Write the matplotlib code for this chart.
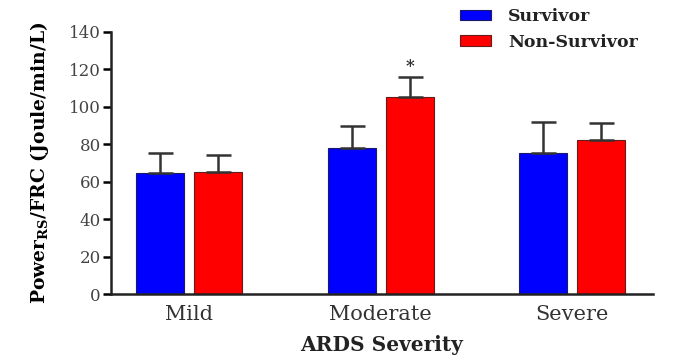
import matplotlib.pyplot as plt
import numpy as np

plt.rcParams['font.family'] = ['DejaVu Serif']
plt.rcParams['mathtext.fontset'] = 'dejavuserif'

# data
categories = ['Mild', 'Moderate', 'Severe']
survivor = [64.8, 77.8, 75.1]
survivor_err = [10.3, 11.9, 16.6]
non_survivor = [65.3, 105.0, 82.1]
non_survivor_err = [8.8, 10.7, 9.0]
yticks = [0, 20, 40, 60, 80, 100, 120, 140]

fig = plt.figure(figsize=(6.94, 3.59), dpi=100)
ax = fig.add_axes([0.1595, 0.1805, 0.781, 0.731])

x = np.arange(len(categories))
w = 0.25
off = 0.151
err_kw = dict(ecolor='#333333', elinewidth=1.8, capsize=9, capthick=1.8)
ax.bar(x - off, survivor, w, color='#0000ff', edgecolor='#1a1a66', linewidth=0.8,
       yerr=[np.zeros(3), survivor_err], error_kw=err_kw, label='Survivor')
ax.bar(x + off, non_survivor, w, color='#ff0000', edgecolor='#661a1a', linewidth=0.8,
       yerr=[np.zeros(3), non_survivor_err], error_kw=err_kw, label='Non-Survivor')

ax.text(x[1] + off, 121.5, '*', ha='center', va='center', fontsize=12, fontweight='bold', color='#333333')

ax.set_xlim(-0.408, 2.419)
ax.set_ylim(0, 140)
ax.set_yticks(yticks)
ax.set_xticks(x)
ax.set_xticklabels(categories, fontsize=15, color='#333333')
ax.tick_params(axis='x', length=0, pad=8)
ax.tick_params(axis='y', length=6, width=1.8, labelsize=12, pad=1, labelcolor='#444444')
for s in ['top', 'right']:
    ax.spines[s].set_visible(False)
for s in ['left', 'bottom']:
    ax.spines[s].set_linewidth(1.8)
    ax.spines[s].set_color('#222222')

ax.set_ylabel(r'Power$_{\mathbf{RS}}$/FRC (Joule/min/L)', fontsize=13.5, fontweight='bold', labelpad=13)
ax.set_xlabel('ARDS Severity', fontsize=14.5, fontweight='bold', labelpad=8, color='#222222')

leg = fig.legend(loc='upper left', bbox_to_anchor=(0.663, 0.978), frameon=False,
                 prop={'weight': 'bold', 'size': 12.5}, handlelength=1.8, handleheight=0.55,
                 handletextpad=0.95, labelspacing=0.5, borderpad=0, borderaxespad=0)
for t in leg.get_texts():
    t.set_color('#222222')

fig.savefig('out.png', dpi=100)
